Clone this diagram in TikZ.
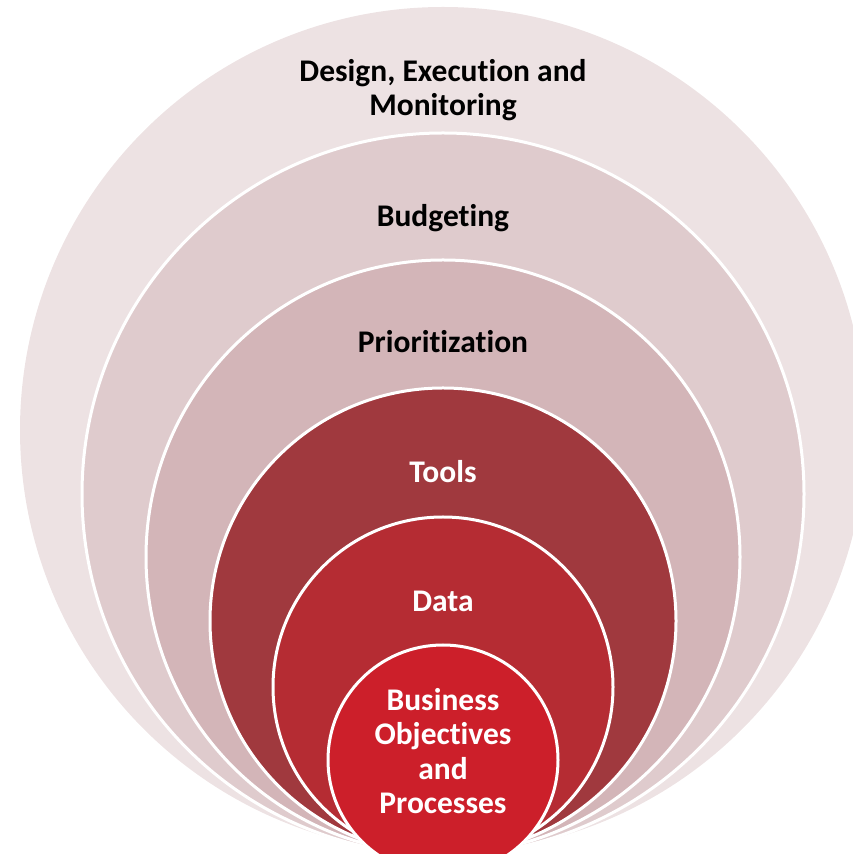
\documentclass[tikz,border=0pt]{standalone}
\usepackage{fontspec}
\setmainfont{Carlito}[Ligatures=NoCommon]
\definecolor{c1}{RGB}{237,226,227}
\definecolor{c2}{RGB}{223,203,205}
\definecolor{c3}{RGB}{211,181,184}
\definecolor{c4}{RGB}{160,57,62}
\definecolor{c5}{RGB}{181,44,51}
\definecolor{c6}{RGB}{204,31,42}
\begin{document}
\begin{tikzpicture}[x=1pt,y=1pt,
  ring/.style={draw=white,line width=3pt},
  lbl/.style={font=\fontsize{31.5}{34.5}\selectfont\bfseries,align=center,inner sep=0pt},
  dark/.style={lbl,text=black},
  light/.style={lbl,text=white}]
\useasboundingbox (0,0) rectangle (853,854);
\clip (0,0) rectangle (853,854);
\fill[c1] (443,424) circle (423);
\draw[ring,fill=c2] (443,360) circle (361);
\draw[ring,fill=c3] (443,297) circle (297);
\draw[ring,fill=c4] (443,233) circle (233);
\draw[ring,fill=c5] (443,167) circle (170);
\draw[ring,fill=c6] (443,94) circle (115);
\node[dark] (design) at (443,764) {Design, Execution and\\Monitoring};
\node[dark] (budget) at (443,636) {Budgeting};
\node[dark] (prior) at (443,512) {Prioritization};
\node[light] (tools) at (443,382) {Tools};
\node[light] (data) at (443,253) {Data};
\node[light] (biz) at (443,103) {Business\\Objectives\\and\\Processes};
\end{tikzpicture}
\end{document}
